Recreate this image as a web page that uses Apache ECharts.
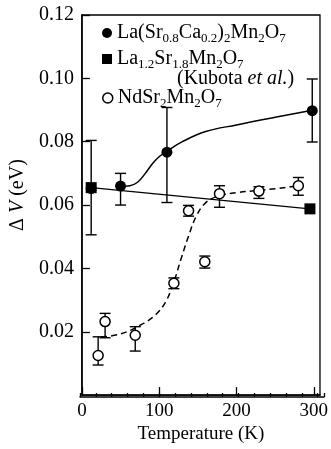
<!DOCTYPE html>
<html>
<head>
<meta charset="utf-8">
<script src="https://cdn.jsdelivr.net/npm/echarts@6/dist/echarts.min.js"></script>
<style>
  html, body { margin: 0; padding: 0; background: #fff; }
  #chart { width: 331px; height: 449px; }
</style>
</head>
<body>
<div id="chart"></div>
<script>
// La(Sr0.8Ca0.2)2Mn2O7 points (filled circles) with error bars
const laT = [12, 50, 110, 298]
const laV = [0.0652, 0.0660, 0.0767, 0.0898]
const laLow = [0.0506, 0.0600, 0.0608, 0.0799]
const laHigh = [0.0804, 0.0700, 0.0908, 0.0998]
// solid guide curve through La points
const laFitT = [50, 62, 72, 82, 92, 101, 110, 130, 160, 200, 250, 298]
const laFitV = [0.0659, 0.0661, 0.0672, 0.0700, 0.0733, 0.0755, 0.0770, 0.0800, 0.0832, 0.0853, 0.0877, 0.0899]

// La1.2Sr1.8Mn2O7 (Kubota et al.) squares, joined by a straight line
const kuT = [12, 295]
const kuV = [0.0655, 0.0588]

// NdSr2Mn2O7 points (open circles) with error bars
const ndT = [21, 30, 69, 119, 138, 159, 178, 229, 280]
const ndV = [0.0125, 0.0232, 0.0189, 0.0353, 0.0582, 0.0421, 0.0636, 0.0644, 0.0661]
const ndLow = [0.0095, 0.0181, 0.0139, 0.0336, 0.0565, 0.0401, 0.0593, 0.0621, 0.0631]
const ndHigh = [0.0184, 0.0258, 0.0216, 0.0370, 0.0599, 0.0439, 0.0661, 0.0658, 0.0687]
// dashed guide curve
const ndFitT = [25, 50, 75, 95, 108, 118, 128, 138, 148, 160, 175, 200, 240, 276]
const ndFitV = [0.0183, 0.0193, 0.0220, 0.0253, 0.0293, 0.0350, 0.0428, 0.0502, 0.0565, 0.0607, 0.0627, 0.0639, 0.0649, 0.0659]

const xTicks = [0, 100, 200, 300]
const yTicks = [0.02, 0.04, 0.06, 0.08, 0.10, 0.12]

const FONT = 'Liberation Serif'

const zip = (a, b) => a.map((v, i) => [v, b[i]])
const zip3 = (a, b, c) => a.map((v, i) => [v, b[i], c[i]])

function renderErr(params, api) {
  const x = api.value(0)
  const lo = api.coord([x, api.value(1)])
  const hi = api.coord([x, api.value(2)])
  const w = 5.5
  const style = { stroke: '#000', lineWidth: 1.4 }
  return {
    type: 'group',
    children: [
      { type: 'line', shape: { x1: lo[0], y1: lo[1], x2: hi[0], y2: hi[1] }, style: style },
      { type: 'line', shape: { x1: lo[0] - w, y1: lo[1], x2: lo[0] + w, y2: lo[1] }, style: style },
      { type: 'line', shape: { x1: hi[0] - w, y1: hi[1], x2: hi[0] + w, y2: hi[1] }, style: style }
    ]
  }
}

const rich = {
  s: { fontFamily: FONT, fontSize: 13, lineHeight: 13, verticalAlign: 'bottom', color: '#000' },
  i: { fontFamily: FONT, fontSize: 20, fontStyle: 'italic', color: '#000' }
}
const legendBase = {
  orient: 'vertical',
  left: 102,
  padding: 0,
  itemWidth: 10,
  itemHeight: 10,
  selectedMode: false,
  textStyle: { fontFamily: FONT, fontSize: 20, lineHeight: 24, color: '#000', rich: rich }
}

const gridBox = { left: 80, right: 7, top: 15, bottom: 52 }

const chart = echarts.init(document.getElementById('chart'))
const option = {
  animation: false,
  backgroundColor: '#fff',
  textStyle: { fontFamily: FONT },
  grid: [
    Object.assign({ show: true, borderColor: '#000', borderWidth: 1.3 }, gridBox),
    // same box, only carries the short 20 K ticks
    Object.assign({ show: false }, gridBox)
  ],
  legend: [
    Object.assign({}, legendBase, {
      top: 21,
      data: [{ name: 'La', icon: 'circle' }],
      formatter: () => 'La(Sr{s|0.8}Ca{s|0.2}){s|2}Mn{s|2}O{s|7}'
    }),
    Object.assign({}, legendBase, {
      top: 47,
      data: [{ name: 'Kubota', icon: 'rect' }],
      formatter: () => 'La{s|1.2}Sr{s|1.8}Mn{s|2}O{s|7}'
    }),
    Object.assign({}, legendBase, {
      top: 86,
      data: [{ name: 'Nd', icon: 'circle', itemStyle: { color: '#fff', borderColor: '#000', borderWidth: 1.5 } }],
      formatter: () => 'NdSr{s|2}Mn{s|2}O{s|7}'
    })
  ],
  graphic: [{
    type: 'text',
    left: 177,
    top: 69,
    style: {
      text: '(Kubota {i|et al.})',
      fontFamily: FONT,
      fontSize: 20,
      fill: '#000',
      rich: { i: { fontFamily: FONT, fontSize: 20, fontStyle: 'italic', fill: '#000' } }
    }
  }],
  xAxis: [{
    type: 'value',
    gridIndex: 0,
    min: 0,
    max: 308,
    interval: 100,
    name: 'Temperature (K)',
    nameLocation: 'middle',
    nameGap: 25,
    nameTextStyle: { fontFamily: FONT, fontSize: 19, color: '#000' },
    axisLine: { lineStyle: { color: '#000', width: 1.5 } },
    axisTick: { inside: true, length: 8, lineStyle: { color: '#000', width: 1.3 } },
    axisLabel: {
      margin: 6,
      fontFamily: FONT,
      fontSize: 19,
      color: '#000',
      showMaxLabel: false,
      formatter: v => (xTicks.indexOf(v) >= 0 ? String(v) : '')
    },
    splitLine: { show: false }
  }, {
    type: 'value',
    gridIndex: 1,
    position: 'bottom',
    min: 0,
    max: 308,
    interval: 20,
    axisLine: { show: true, lineStyle: { color: '#000', width: 1.5 } },
    axisTick: { show: true, inside: true, length: 4, lineStyle: { color: '#000', width: 1.3 } },
    axisLabel: { show: false },
    splitLine: { show: false }
  }],
  yAxis: [{
    type: 'value',
    gridIndex: 0,
    min: 0,
    max: 0.12,
    interval: 0.02,
    name: '\u0394 {i|V} (eV)',
    nameLocation: 'middle',
    nameGap: 53,
    nameTextStyle: {
      fontFamily: FONT, fontSize: 20, color: '#000',
      padding: [0, 0, 0, 20],
      rich: { i: { fontFamily: FONT, fontSize: 20, fontStyle: 'italic', color: '#000' } }
    },
    axisLine: { lineStyle: { color: '#000', width: 1.5 } },
    axisTick: { inside: true, length: 8, lineStyle: { color: '#000', width: 1.3 } },
    axisLabel: {
      margin: 8,
      fontFamily: FONT,
      fontSize: 20,
      color: '#000',
      showMinLabel: false,
      formatter: v => {
        const t = yTicks.find(k => Math.abs(k - v) < 1e-9)
        return t === undefined ? '' : t.toFixed(2)
      }
    },
    splitLine: { show: false }
  }, {
    type: 'value',
    gridIndex: 1,
    min: 0,
    max: 0.12,
    show: false
  }],
  series: [
    {
      type: 'custom',
      name: 'laErr',
      renderItem: renderErr,
      encode: { x: 0, y: [1, 2] },
      data: zip3(laT, laLow, laHigh),
      z: 2
    },
    {
      type: 'custom',
      name: 'ndErr',
      renderItem: renderErr,
      encode: { x: 0, y: [1, 2] },
      data: zip3(ndT, ndLow, ndHigh),
      z: 2
    },
    {
      type: 'line',
      name: 'laFit',
      data: zip(laFitT, laFitV),
      smooth: 0.4,
      showSymbol: false,
      symbol: 'none',
      lineStyle: { color: '#000', width: 1.5 },
      z: 3
    },
    {
      type: 'line',
      name: 'ndFit',
      data: zip(ndFitT, ndFitV),
      smooth: 0.4,
      showSymbol: false,
      symbol: 'none',
      lineStyle: { color: '#000', width: 1.5, type: [6, 4] },
      z: 3
    },
    {
      type: 'line',
      name: 'Kubota',
      data: zip(kuT, kuV),
      symbol: 'rect',
      symbolSize: 11,
      itemStyle: { color: '#000' },
      lineStyle: { color: '#000', width: 1.4 },
      z: 4
    },
    {
      type: 'scatter',
      name: 'La',
      data: zip(laT, laV),
      symbol: 'circle',
      symbolSize: 11,
      itemStyle: { color: '#000', opacity: 1 },
      z: 5
    },
    {
      type: 'scatter',
      name: 'Nd',
      data: zip(ndT, ndV),
      symbol: 'circle',
      symbolSize: 10,
      itemStyle: { color: '#fff', borderColor: '#000', borderWidth: 1.5, opacity: 1 },
      z: 5
    }
  ]
}
chart.setOption(option)
window.addEventListener('resize', () => chart.resize())
</script>
</body>
</html>
